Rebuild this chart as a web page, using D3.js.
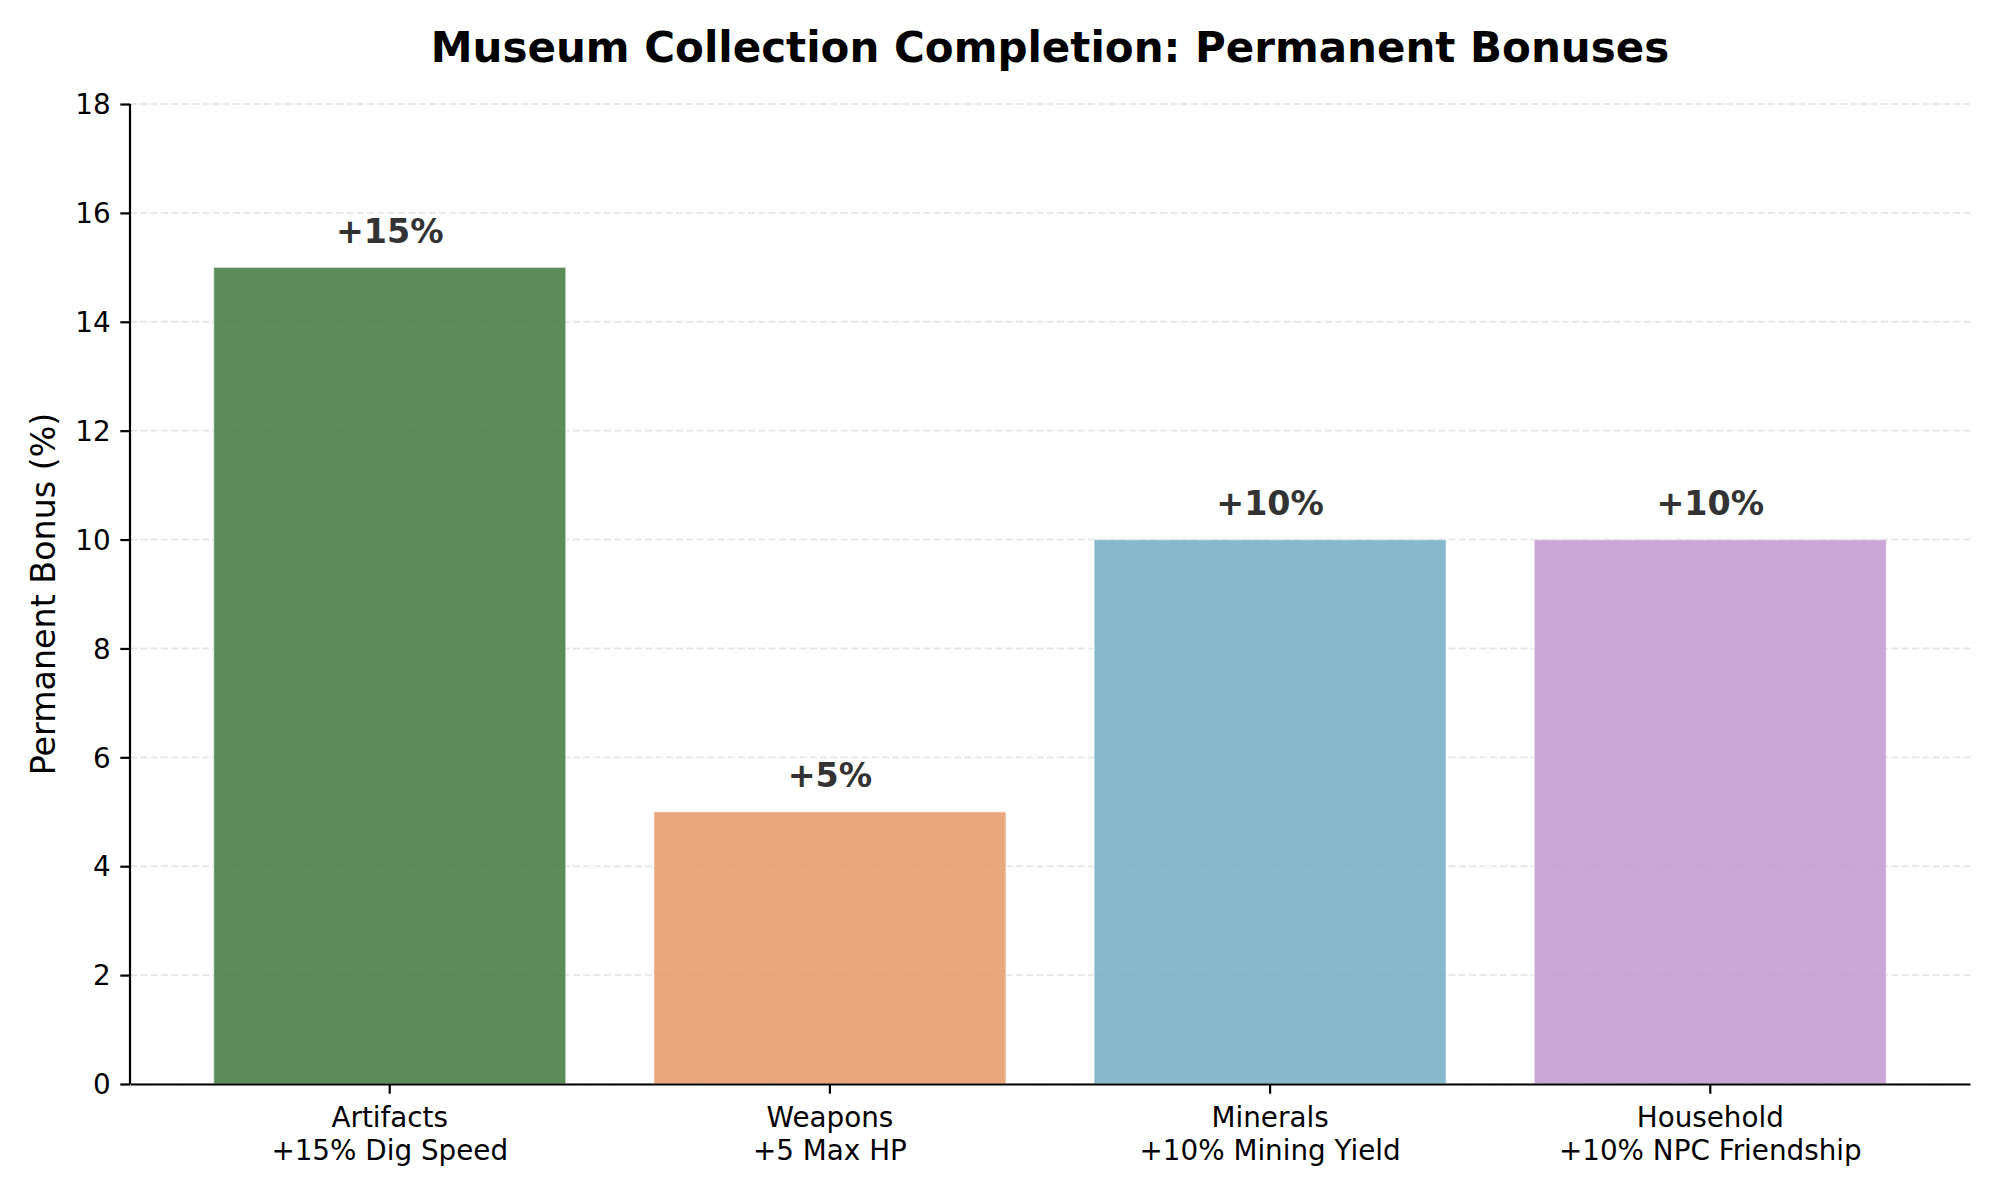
<!DOCTYPE html>
<html>
<head>
<meta charset="utf-8">
<script src="https://cdn.jsdelivr.net/npm/d3@7"></script>
<style>
    body { margin: 0; background: #fff; }
    svg { display: block; font-family: "DejaVu Sans", sans-serif; }
</style>
</head>
<body>
<svg id="chart" width="2000" height="1200"></svg>
<script>
// chart data
const categories = ["Artifacts", "Weapons", "Minerals", "Household"];
const bonusText = ["+15% Dig Speed", "+5 Max HP", "+10% Mining Yield", "+10% NPC Friendship"];
const bonusValues = [15, 5, 10, 10];
const valueLabels = ["+15%", "+5%", "+10%", "+10%"];
const barColors = ["#3e783d", "#e49965", "#72acc2", "#c298d1"];
const yTicks = [0, 2, 4, 6, 8, 10, 12, 14, 16, 18];

const width = 2000;
const height = 1200;
const margin = { left: 130, right: 30, top: 104, bottom: 116 };
const drawWidth = width - margin.left - margin.right;
const drawHeight = height - margin.top - margin.bottom;

const svg = d3.select("#chart");
svg.append("rect").attr("width", width).attr("height", height).attr("fill", "#fff");

const g = svg.append("g")
    .attr("transform", `translate(${margin.left},${margin.top})`);

const xScale = d3.scaleBand()
    .domain(categories)
    .range([0, drawWidth])
    .paddingInner(0.2)
    .paddingOuter(0.19);

const yScale = d3.scaleLinear()
    .domain([0, 18])
    .range([drawHeight, 0]);

// grid lines (behind bars)
g.append("g")
    .selectAll("line")
    .data(yTicks)
    .enter().append("line")
    .attr("x1", 0)
    .attr("x2", drawWidth)
    .attr("y1", (d) => yScale(d))
    .attr("y2", (d) => yScale(d))
    .attr("stroke", "#b0b0b0")
    .attr("stroke-opacity", 0.3)
    .attr("stroke-width", 1.9)
    .attr("stroke-dasharray", "7.2,3.1");

// bars
g.append("g")
    .selectAll("rect")
    .data(categories)
    .enter().append("rect")
    .attr("x", (d) => xScale(d))
    .attr("width", xScale.bandwidth())
    .attr("y", (d, i) => yScale(bonusValues[i]))
    .attr("height", (d, i) => drawHeight - yScale(bonusValues[i]))
    .attr("fill", (d, i) => barColors[i])
    .attr("fill-opacity", 0.85)
    .attr("stroke", "#fff")
    .attr("stroke-opacity", 0.5)
    .attr("stroke-width", 1.4);

// value labels
g.append("g")
    .selectAll("text")
    .data(categories)
    .enter().append("text")
    .attr("x", (d) => xScale(d) + xScale.bandwidth() / 2)
    .attr("y", (d, i) => yScale(bonusValues[i] + 0.3) - 8)
    .attr("text-anchor", "middle")
    .attr("font-size", 33.3)
    .attr("font-weight", "bold")
    .attr("fill", "#333333")
    .text((d, i) => valueLabels[i]);

// axes
const yAxis = g.append("g")
    .call(d3.axisLeft(yScale).tickValues(yTicks).tickSize(9.7).tickPadding(9.7));

const xAxis = g.append("g")
    .attr("transform", `translate(0,${drawHeight})`)
    .call(d3.axisBottom(xScale).tickSize(9.7).tickSizeOuter(0).tickFormat(""));

[yAxis, xAxis].forEach((ax) => {
    ax.attr("font-family", "DejaVu Sans").attr("font-size", 27.8);
    ax.select(".domain").attr("stroke", "#000").attr("stroke-width", 2.2);
    ax.selectAll(".tick line").attr("stroke", "#000").attr("stroke-width", 2.2);
    ax.selectAll("text").attr("fill", "#000");
});
yAxis.select(".domain").attr("d", `M0,${drawHeight}V0`);
yAxis.selectAll(".tick text").attr("dy", "0.35em");

// two-line category labels
xAxis.selectAll(".tick").each(function (d, i) {
    const t = d3.select(this).append("text")
        .attr("text-anchor", "middle")
        .attr("fill", "#000")
        .attr("y", 43);
    t.append("tspan").attr("x", 0).text(categories[i]);
    t.append("tspan").attr("x", 0).attr("dy", 33.4).text(bonusText[i]);
});

// title
svg.append("text")
    .attr("x", margin.left + drawWidth / 2)
    .attr("y", 62)
    .attr("text-anchor", "middle")
    .attr("font-size", 42)
    .attr("font-weight", "bold")
    .attr("fill", "#000")
    .text("Museum Collection Completion: Permanent Bonuses");

// y axis title
svg.append("text")
    .attr("transform", `translate(55,${margin.top + drawHeight / 2}) rotate(-90)`)
    .attr("text-anchor", "middle")
    .attr("font-size", 33.3)
    .attr("fill", "#000")
    .text("Permanent Bonus (%)");
</script>
</body>
</html>
